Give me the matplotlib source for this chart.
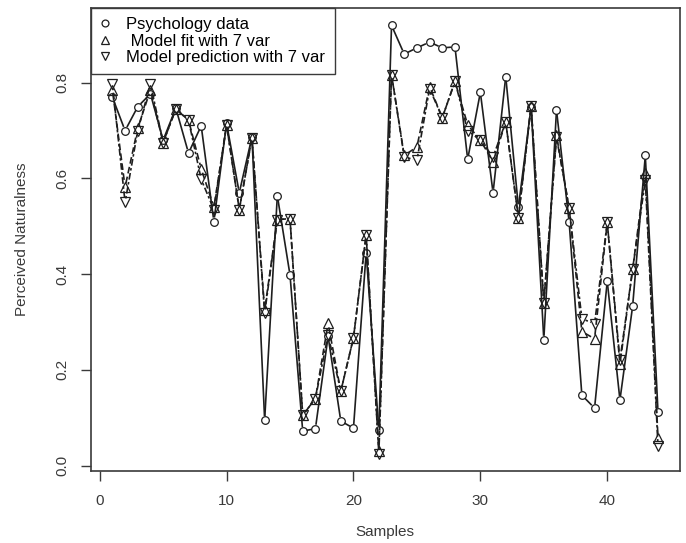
import numpy as np
import matplotlib
matplotlib.use("Agg")
import matplotlib.pyplot as plt
from matplotlib.collections import LineCollection

plt.rcParams["font.family"] = ["Liberation Sans", "DejaVu Sans"]

# values
samples = np.arange(1, 45)
psychology = [0.77, 0.70, 0.75, 0.777, 0.68, 0.747, 0.653, 0.71, 0.51, 0.715, 0.57, 0.687,
              0.095, 0.564, 0.398, 0.072, 0.077, 0.27, 0.093, 0.078, 0.445, 0.074,
              0.92, 0.86, 0.873, 0.885, 0.873, 0.875, 0.64, 0.78, 0.57, 0.813, 0.54, 0.75,
              0.263, 0.743, 0.508, 0.147, 0.12, 0.385, 0.137, 0.333, 0.648, 0.112]
model_fit = [0.785, 0.582, 0.705, 0.785, 0.675, 0.745, 0.722, 0.62, 0.54, 0.712, 0.535, 0.685,
             0.325, 0.514, 0.516, 0.105, 0.14, 0.297, 0.155, 0.267, 0.482, 0.03,
             0.817, 0.648, 0.666, 0.792, 0.727, 0.803, 0.712, 0.68, 0.635, 0.718, 0.518, 0.752,
             0.34, 0.69, 0.538, 0.28, 0.265, 0.508, 0.212, 0.41, 0.612, 0.057]
model_pred = [0.798, 0.55, 0.70, 0.798, 0.675, 0.745, 0.722, 0.598, 0.535, 0.712, 0.535, 0.685,
              0.318, 0.514, 0.516, 0.105, 0.14, 0.273, 0.155, 0.267, 0.482, 0.025,
              0.817, 0.645, 0.638, 0.788, 0.727, 0.803, 0.70, 0.68, 0.645, 0.718, 0.518, 0.752,
              0.34, 0.686, 0.538, 0.307, 0.296, 0.508, 0.22, 0.41, 0.596, 0.04]

INK = "#1e1e1e"
AXIS = "#3a3a3a"


def gapped_line(ax, x, y, gap_px, **kw):
    # R type="b": segments stop short of the points
    pts = ax.transData.transform(np.column_stack([x, y]))
    inv = ax.transData.inverted()
    segs = []
    for p0, p1 in zip(pts[:-1], pts[1:]):
        d = p1 - p0
        length = np.hypot(*d)
        if length <= 2 * gap_px:
            continue
        u = d / length
        segs.append(inv.transform(np.array([p0 + u * gap_px, p1 - u * gap_px])))
    ax.add_collection(LineCollection(segs, **kw))


fig = plt.figure(figsize=(6.86, 5.43), dpi=100)
ax = fig.add_axes([0.132, 0.133, 0.859, 0.852])
ax.set_xlim(-0.72, 45.72)
ax.set_ylim(-0.011, 0.956)

gapped_line(ax, samples, psychology, 4, colors=INK, linewidths=1.2, linestyles="-")
gapped_line(ax, samples, model_fit, 4, colors=INK, linewidths=1.2, linestyles=(0, (4, 2)))
gapped_line(ax, samples, model_pred, 4, colors=INK, linewidths=1.2, linestyles=(0, (1.5, 1.5, 4, 1.5)))

ax.plot(samples, psychology, "o", ms=5.5, mfc="none", mec=INK, mew=0.9,
        label="Psychology data")
ax.plot(samples, model_fit, "^", ms=7, mfc="none", mec=INK, mew=0.9,
        label=" Model fit with 7 var")
ax.plot(samples, model_pred, "v", ms=7, mfc="none", mec=INK, mew=0.9,
        label="Model prediction with 7 var")

ax.set_xticks([0, 10, 20, 30, 40])
ax.set_yticks([0.0, 0.2, 0.4, 0.6, 0.8])
ax.set_yticklabels(["0.0", "0.2", "0.4", "0.6", "0.8"], rotation=90, va="center")
ax.tick_params(direction="out", length=7, width=1, colors=AXIS, labelsize=11)
ax.tick_params(axis="x", pad=10)
ax.tick_params(axis="y", pad=8)
for s in ax.spines.values():
    s.set_color(AXIS)
    s.set_linewidth(1.2)

ax.set_xlabel("Samples", fontsize=11, color=AXIS, labelpad=12)
ax.set_ylabel("Perceived Naturalness", fontsize=11, color=AXIS, labelpad=19)

leg = ax.legend(loc="upper left", borderaxespad=0, fancybox=False, framealpha=1,
                edgecolor=AXIS, fontsize=12, handletextpad=1.0, borderpad=0.55,
                labelspacing=0.08, handlelength=0.6, markerscale=0.9)
leg.get_frame().set_linewidth(1.0)

fig.savefig("out.png", dpi=100)
